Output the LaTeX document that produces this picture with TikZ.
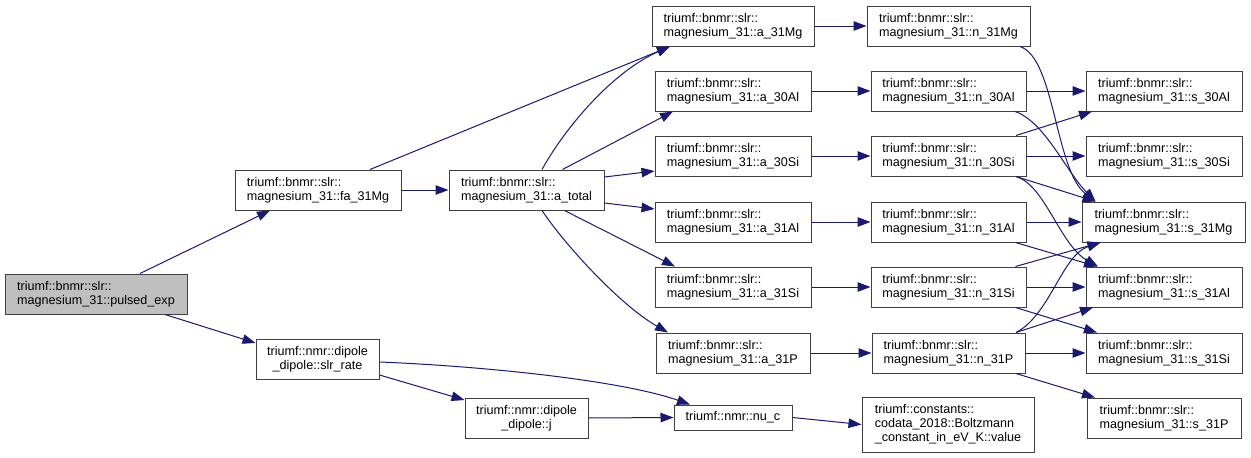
\documentclass[tikz,border=0pt]{standalone}
\usepackage{fontspec}
\setmainfont{Liberation Sans}
\usetikzlibrary{arrows.meta}
\definecolor{edgecol}{HTML}{191970}
\definecolor{boxcol}{HTML}{404040}
\definecolor{rootfill}{HTML}{BFBFBF}
\tikzset{
  fn/.style={draw=boxcol, line width=1pt, fill=white, inner sep=0pt,
    minimum height=40pt, align=left, font=\fontsize{12.6}{14}\selectfont},
  root/.style={fn, fill=rootfill},
  e/.style={draw=edgecol, line width=1pt, -{Triangle[length=13pt,width=9.5pt]}, edgecol},
}
\begin{document}
\begin{tikzpicture}[x=1pt,y=-1pt]
\useasboundingbox (0,0) rectangle (1251,458);
% column 0
\node[root, minimum width=182pt] (pulsed) at (96,294) {triumf::bnmr::slr::\\magnesium\_31::pulsed\_exp};
% column 1
\node[fn, minimum width=166pt] (fa) at (318,190) {triumf::bnmr::slr::\\magnesium\_31::fa\_31Mg};
\node[fn, minimum width=123pt, align=center] (slr) at (317.5,359) {triumf::nmr::dipole\\\_dipole::slr\_rate};
% column 2
\node[fn, minimum width=155pt] (atot) at (526.5,190) {triumf::bnmr::slr::\\magnesium\_31::a\_total};
\node[fn, minimum width=123pt, align=center] (dj) at (526.5,418) {triumf::nmr::dipole\\\_dipole::j};
% column 3
\node[fn, minimum width=162pt] (a31Mg) at (733,26) {triumf::bnmr::slr::\\magnesium\_31::a\_31Mg};
\node[fn, minimum width=156pt] (a30Al) at (733,91) {triumf::bnmr::slr::\\magnesium\_31::a\_30Al};
\node[fn, minimum width=156pt] (a30Si) at (733,156) {triumf::bnmr::slr::\\magnesium\_31::a\_30Si};
\node[fn, minimum width=156pt] (a31Al) at (733,222) {triumf::bnmr::slr::\\magnesium\_31::a\_31Al};
\node[fn, minimum width=156pt] (a31Si) at (733,287) {triumf::bnmr::slr::\\magnesium\_31::a\_31Si};
\node[fn, minimum width=154pt] (a31P) at (733,353) {triumf::bnmr::slr::\\magnesium\_31::a\_31P};
\node[fn, minimum width=118pt, minimum height=25pt] (nuc) at (733,417.5) {triumf::nmr::nu\_c};
% column 4
\node[fn, minimum width=163pt] (n31Mg) at (948.5,26) {triumf::bnmr::slr::\\magnesium\_31::n\_31Mg};
\node[fn, minimum width=155pt] (n30Al) at (948.5,91) {triumf::bnmr::slr::\\magnesium\_31::n\_30Al};
\node[fn, minimum width=155pt] (n30Si) at (948.5,156) {triumf::bnmr::slr::\\magnesium\_31::n\_30Si};
\node[fn, minimum width=155pt] (n31Al) at (948.5,222) {triumf::bnmr::slr::\\magnesium\_31::n\_31Al};
\node[fn, minimum width=155pt] (n31Si) at (948.5,287) {triumf::bnmr::slr::\\magnesium\_31::n\_31Si};
\node[fn, minimum width=153pt] (n31P) at (948.5,353) {triumf::bnmr::slr::\\magnesium\_31::n\_31P};
\node[fn, minimum width=172pt, minimum height=55pt] (boltz) at (948,424.5) {triumf::constants::\\codata\_2018::Boltzmann\\\_constant\_in\_eV\_K::value};
% column 5
\node[fn, minimum width=156pt] (s30Al) at (1164,91) {triumf::bnmr::slr::\\magnesium\_31::s\_30Al};
\node[fn, minimum width=156pt] (s30Si) at (1164,156) {triumf::bnmr::slr::\\magnesium\_31::s\_30Si};
\node[fn, minimum width=163pt] (s31Mg) at (1163.5,222) {triumf::bnmr::slr::\\magnesium\_31::s\_31Mg};
\node[fn, minimum width=156pt] (s31Al) at (1164,287) {triumf::bnmr::slr::\\magnesium\_31::s\_31Al};
\node[fn, minimum width=156pt] (s31Si) at (1164,353) {triumf::bnmr::slr::\\magnesium\_31::s\_31Si};
\node[fn, minimum width=154pt] (s31P) at (1164,418) {triumf::bnmr::slr::\\magnesium\_31::s\_31P};

% edges from pulsed
\draw[e] ([xshift=44pt]pulsed.north) -- ([xshift=-48pt]fa.south);
\draw[e] ([xshift=69pt]pulsed.south) -- ([yshift=16pt]slr.west);
% fa
\draw[e] (fa.east) -- (atot.west);
\draw[e] ([xshift=52pt]fa.north) -- ([xshift=-63pt]a31Mg.south);
% a_total
\draw[e] ([xshift=15.5pt]atot.north) .. controls (565,128) and (612,72) .. ([xshift=-63pt]a31Mg.south);
\draw[e] ([xshift=36pt]atot.north) -- ([xshift=-60pt]a30Al.south);
\draw[e] ([yshift=13pt]atot.east) -- ([yshift=-15pt]a30Si.west);
\draw[e] ([yshift=-13pt]atot.east) -- ([yshift=13pt]a31Al.west);
\draw[e] ([xshift=38pt]atot.south) -- ([xshift=-58pt]a31Si.north);
\draw[e] ([xshift=15.5pt]atot.south) .. controls (565,245) and (620,305) .. ([xshift=-65pt]a31P.north);
% slr_rate
\draw[e] ([yshift=-3pt]slr.east) .. controls (480,366) and (620,380) .. ([xshift=-43pt]nuc.north);
\draw[e] ([yshift=-16pt]slr.east) -- ([yshift=18pt]dj.west);
\draw[e] (dj.east) -- (nuc.west);
\draw[e] (nuc.east) -- (boltz.west);
% a -> n
\draw[e] (a31Mg.east) -- (n31Mg.west);
\draw[e] (a30Al.east) -- (n30Al.west);
\draw[e] (a30Si.east) -- (n30Si.west);
\draw[e] (a31Al.east) -- (n31Al.west);
\draw[e] (a31Si.east) -- (n31Si.west);
\draw[e] (a31P.east) -- (n31P.west);
% n -> s
\draw[e] ([xshift=71.5pt]n31Mg.south) .. controls (1055,58) and (1055,170) .. ([xshift=-68pt]s31Mg.north);
\draw[e] (n30Al.east) -- (s30Al.west);
\draw[e] ([xshift=66.5pt]n30Al.south) .. controls (1045,122) and (1065,170) .. ([xshift=-68pt]s31Mg.north);
\draw[e] ([xshift=67.5pt]n30Si.north) -- ([xshift=-72pt]s30Al.south);
\draw[e] (n30Si.east) -- (s30Si.west);
\draw[e] ([xshift=67.5pt]n30Si.south) -- ([xshift=-68pt]s31Mg.north);
\draw[e] ([xshift=67.5pt]n30Si.south) .. controls (1045,185) and (1060,245) .. ([xshift=-66pt]s31Al.north);
\draw[e] (n31Al.east) -- (s31Mg.west);
\draw[e] ([xshift=67pt]n31Al.south) -- ([xshift=-67pt]s31Al.north);
\draw[e] ([xshift=67pt]n31Si.north) -- ([xshift=-63pt]s31Mg.south);
\draw[e] (n31Si.east) -- (s31Al.west);
\draw[e] ([xshift=67pt]n31Si.south) -- ([xshift=-67pt]s31Si.north);
\draw[e] ([xshift=67.5pt]n31P.north) .. controls (1050,315) and (1062,255) .. ([xshift=-63pt]s31Mg.south);
\draw[e] ([xshift=67.5pt]n31P.north) -- ([xshift=-71pt]s31Al.south);
\draw[e] (n31P.east) -- (s31Si.west);
\draw[e] ([xshift=67.5pt]n31P.south) -- ([xshift=-69pt]s31P.north);
\end{tikzpicture}
\end{document}
